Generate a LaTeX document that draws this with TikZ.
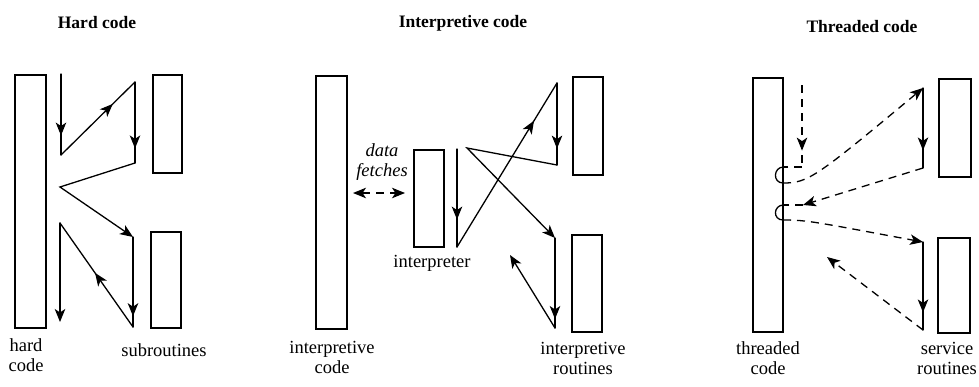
\documentclass[tikz,border=0pt]{standalone}
\usepackage{fontspec}
\setmainfont{Liberation Serif}
\usetikzlibrary{arrows.meta,decorations.markings}
\tikzset{
  head/.tip={Stealth[length=13pt,width=10.5pt,inset=3.5pt]},
  >={head},
  bar/.style={draw,line width=1.3pt,inner sep=0pt},
  flow/.style={line width=1.3pt,line cap=round},
  dflow/.style={line width=1.3pt,dash pattern=on 8pt off 6pt},
  title/.style={font=\bfseries\fontsize{17.5}{20}\selectfont},
  lab/.style={font=\fontsize{18.5}{20}\selectfont,align=center},
  ital/.style={lab,font=\itshape\fontsize{18.5}{20}\selectfont},
  tipat/.style={postaction={decorate},decoration={markings,mark=at position #1 with {\arrow{head}}}},
}
\begin{document}
\begin{tikzpicture}[x=1pt,y=-1pt]
\useasboundingbox (0,0) rectangle (979,386);

% hard code
\node[title] (thard) at (97,23) {Hard code};
\node[bar,minimum width=31pt,minimum height=253pt] (hc) at (30.5,201.5) {};
\node[bar,minimum width=29pt,minimum height=98pt] (subA) at (167.5,124) {};
\node[bar,minimum width=30pt,minimum height=96pt] (subB) at (166,280) {};
\node[lab] (lhard) at (26,355) {hard\\code};
\node[lab] (lsub) at (164,350) {subroutines};
\coordinate (h1) at (61,74);
\coordinate (h2) at (61,155);
\coordinate (h3) at (135,82);
\coordinate (h4) at (135,163);
\coordinate (h5) at (60,187);
\coordinate (h6) at (133,237);
\coordinate (h7) at (133,327);
\coordinate (h8) at (60,223);
\coordinate (h9) at (60,322);
\draw[flow,tipat=0.76] (h1) -- (h2);
\draw[flow,tipat=0.7] (h2) -- (h3);
\draw[flow,tipat=0.82] (h3) -- (h4);
\draw[flow,->] (h4) -- (h5) -- (h6);
\draw[flow,tipat=0.88] (h6) -- (h7);
\draw[flow,tipat=0.52] (h7) -- (h8);
\draw[flow,->] (h8) -- (h9);

% interpretive code
\node[title] (tint) at (463,23) {Interpretive code};
\node[bar,minimum width=31pt,minimum height=253pt] (ic) at (331.5,202.5) {};
\node[bar,minimum width=30pt,minimum height=97pt] (ip) at (429,198.5) {};
\node[bar,minimum width=30pt,minimum height=98pt] (irA) at (588,126) {};
\node[bar,minimum width=30pt,minimum height=97pt] (irB) at (587,283.5) {};
\node[lab] (lic) at (332,357) {interpretive\\code};
\node[lab] (lip) at (432,263) {interpreter};
\node[lab] (lir) at (583,358) {interpretive\\routines};
\node[ital] (lfetch) at (382,162) {data\\fetches};
\coordinate (f1) at (353,193);
\coordinate (f2) at (405,193);
\draw[dflow,<->] (f1) -- (f2);
\coordinate (i1) at (457,149);
\coordinate (i2) at (457,247);
\coordinate (i3) at (557,83);
\coordinate (i4) at (557,165);
\coordinate (i5) at (467,148);
\coordinate (i6) at (555,238);
\coordinate (i7) at (555,328);
\coordinate (i8) at (510,255);
\draw[flow,tipat=0.72] (i1) -- (i2);
\draw[flow,tipat=0.77] (i2) -- (i3);
\draw[flow,tipat=0.8] (i3) -- (i4);
\draw[flow,->] (i4) -- (i5) -- (i6);
\draw[flow,tipat=0.9] (i6) -- (i7);
\draw[flow,->] (i7) -- (i8);

% threaded code
\node[title] (tthr) at (862,27) {Threaded code};
\node[bar,minimum width=30pt,minimum height=254pt] (tc) at (768,205) {};
\node[bar,minimum width=32pt,minimum height=98pt] (srA) at (955,128) {};
\node[bar,minimum width=32pt,minimum height=95pt] (srB) at (954,285.5) {};
\node[lab] (ltc) at (768,358) {threaded\\code};
\node[lab] (lsr) at (947,358) {service\\routines};
\coordinate (t1) at (802,85);
\coordinate (t2) at (802,167);
\coordinate (c1t) at (tc.east |- t2);
\coordinate (c1b) at (783,183);
\coordinate (t3) at (923,88);
\coordinate (t4) at (923,168);
\coordinate (t5) at (803,205);
\coordinate (c2t) at (tc.east |- t5);
\coordinate (c2b) at (783,220);
\coordinate (t6) at (923,242);
\coordinate (t7) at (923,330);
\coordinate (t8) at (827,257);
\draw[dflow,tipat=0.8] (t1) -- (t2);
\draw[dflow] (t2) -- (c1t);
\draw[flow] (c1t) .. controls +(-10.5,0) and +(-10.5,0) .. (c1b);
\draw[dflow,->] (c1b) .. controls (808,183) and (815,178) .. (t3);
\draw[flow,tipat=0.78] (t3) -- (t4);
\draw[dflow,->] (t4) -- (t5);
\draw[dflow] (t5) -- (c2t);
\draw[flow] (c2t) .. controls +(-10.5,0) and +(-10.5,0) .. (c2b);
\draw[dflow,->] (c2b) .. controls (808,220) and (815,222) .. (t6);
\draw[flow,tipat=0.8] (t6) -- (t7);
\draw[dflow,->] (t7) -- (t8);
\end{tikzpicture}
\end{document}
